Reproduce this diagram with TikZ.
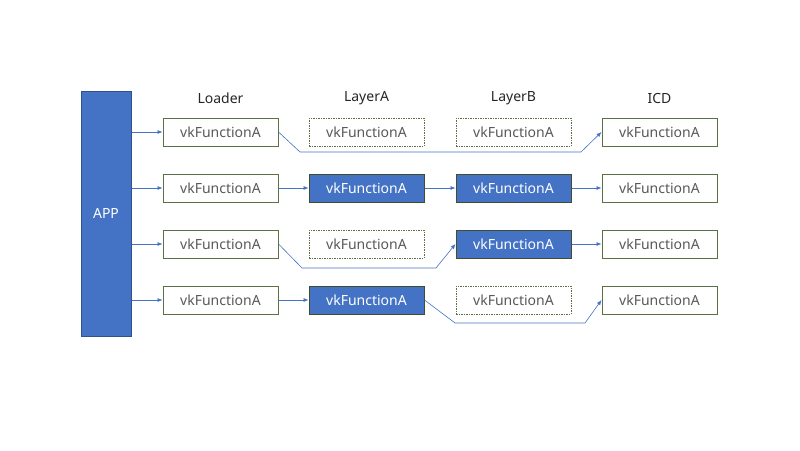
\documentclass[tikz,border=0pt]{standalone}
\usepackage{fontspec}
\setmainfont{Noto Sans}
\usetikzlibrary{arrows.meta}
\definecolor{appblue}{HTML}{4472C4}
\definecolor{appedge}{HTML}{2F528F}
\definecolor{boxedge}{HTML}{5B7045}
\definecolor{txtgray}{HTML}{595959}
\definecolor{lineblue}{HTML}{4472C4}
\begin{document}
\begin{tikzpicture}[x=1pt,y=-1pt,
  fbox/.style={draw=boxedge,line width=1pt,minimum width=115pt,minimum height=28pt,inner sep=0pt,font=\fontsize{14}{16}\selectfont,text=txtgray,fill=white},
  bbox/.style={fbox,fill=appblue,text=white,draw=boxedge!70!black},
  dbox/.style={fbox,dash pattern=on 1.5pt off 1pt},
  hdr/.style={font=\fontsize{14}{16}\selectfont,text=black!85},
  conn/.style={draw=lineblue,line width=0.6pt,-{Latex[length=5pt,width=4pt]}}]
\useasboundingbox (0,0) rectangle (800,450);
\node[draw=appedge,fill=appblue,line width=1pt,minimum width=50pt,minimum height=245pt,inner sep=0pt,text=white,font=\fontsize{14}{16}\selectfont] (app) at (106,213.5) {APP};
\node[hdr] (h1) at (220.5,98) {Loader};
\node[hdr] (h2) at (366.5,98) {LayerA};
\node[hdr] (h3) at (513.5,98) {LayerB};
\node[hdr] (h4) at (659.5,98) {ICD};
% row 1
\node[fbox] (a1) at (220.5,132) {vkFunctionA};
\node[dbox] (b1) at (366.5,132) {vkFunctionA};
\node[dbox] (c1) at (513.5,132) {vkFunctionA};
\node[fbox] (d1) at (659.5,132) {vkFunctionA};
% row 2
\node[fbox] (a2) at (220.5,188) {vkFunctionA};
\node[bbox] (b2) at (366.5,188) {vkFunctionA};
\node[bbox] (c2) at (513.5,188) {vkFunctionA};
\node[fbox] (d2) at (659.5,188) {vkFunctionA};
% row 3
\node[fbox] (a3) at (220.5,244) {vkFunctionA};
\node[dbox] (b3) at (366.5,244) {vkFunctionA};
\node[bbox] (c3) at (513.5,244) {vkFunctionA};
\node[fbox] (d3) at (659.5,244) {vkFunctionA};
% row 4
\node[fbox] (a4) at (220.5,300) {vkFunctionA};
\node[bbox] (b4) at (366.5,300) {vkFunctionA};
\node[dbox] (c4) at (513.5,300) {vkFunctionA};
\node[fbox] (d4) at (659.5,300) {vkFunctionA};
% APP to loader
\draw[conn] (app.east |- a1) -- (a1.west);
\draw[conn] (app.east |- a2) -- (a2.west);
\draw[conn] (app.east |- a3) -- (a3.west);
\draw[conn] (app.east |- a4) -- (a4.west);
% row 1
\coordinate (r1a) at (300,152);
\coordinate (r1b) at (581,152);
\draw[conn] (a1.east) -- (r1a) -- (r1b) -- (d1.west);
% row 2
\draw[conn] (a2.east) -- (b2.west);
\draw[conn] (b2.east) -- (c2.west);
\draw[conn] (c2.east) -- (d2.west);
% row 3
\coordinate (r3a) at (302,268);
\coordinate (r3b) at (436,268);
\draw[conn] (a3.east) -- (r3a) -- (r3b) -- (c3.west);
\draw[conn] (c3.east) -- (d3.west);
% row 4
\draw[conn] (a4.east) -- (b4.west);
\coordinate (r4a) at (455,323);
\coordinate (r4b) at (585,323);
\draw[conn] (b4.east) -- (r4a) -- (r4b) -- (d4.west);
\end{tikzpicture}
\end{document}
